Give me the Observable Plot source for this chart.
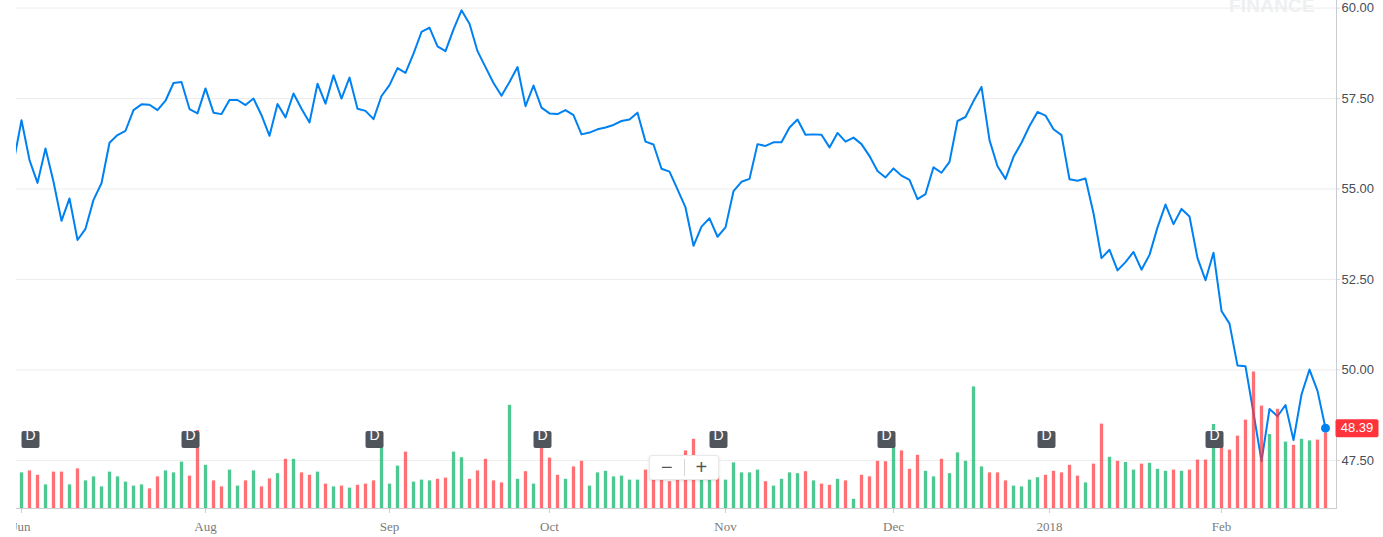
<!DOCTYPE html>
<html><head><meta charset="utf-8">
<script src="https://cdn.jsdelivr.net/npm/d3@7"></script>
<script src="https://cdn.jsdelivr.net/npm/@observablehq/plot@0.6"></script>
<style>
html,body{margin:0;padding:0;background:#fff;overflow:hidden}
#wrap{position:relative;width:1383px;height:537px;overflow:hidden}
#wrap svg{position:absolute;left:0;top:0}
#mark{position:absolute;left:1229px;top:-4px;font:bold 19px "Liberation Sans",Arial,sans-serif;line-height:19px;color:#eef0f2;letter-spacing:0.2px}
#zoomctl{position:absolute;left:649px;top:455px;width:68px;height:23px;background:#fff;border:1px solid #e8e8e8;border-radius:3px;box-shadow:0 1px 3px rgba(0,0,0,0.12);display:flex;align-items:center;font:20px "Liberation Sans",Arial,sans-serif;color:#555;z-index:5}
#zoomctl span{flex:1;text-align:center;line-height:23px}
#zoomctl .sep{flex:0 0 1px;height:17px;background:#d6d6d6}
#leftclip{position:absolute;left:0;top:0;width:16px;height:537px;background:#fff;z-index:6}
</style></head>
<body><div id="wrap"><div id="mark">FINANCE</div></div>
<script>
// Daily closes, first value is the trading day before the first visible bar
const closes = [55.73,
56.90,55.80,55.17,56.12,55.20,54.12,54.74,53.59,53.90,54.70,
55.16,56.28,56.49,56.61,57.18,57.34,57.33,57.18,57.44,57.93,
57.96,57.21,57.09,57.78,57.11,57.07,57.46,57.46,57.32,57.50,
57.04,56.47,57.35,56.98,57.64,57.22,56.84,57.91,57.36,58.14,
57.50,58.08,57.22,57.16,56.93,57.57,57.87,58.34,58.21,58.74,
59.34,59.46,58.94,58.81,59.41,59.94,59.57,58.81,58.37,57.93,
57.58,57.96,58.37,57.29,57.86,57.25,57.09,57.07,57.18,57.04,
56.51,56.56,56.65,56.70,56.77,56.88,56.92,57.11,56.31,56.23,
55.56,55.48,54.99,54.49,53.43,53.96,54.19,53.68,53.94,54.94,
55.20,55.28,56.24,56.19,56.29,56.29,56.70,56.92,56.50,56.51,
56.50,56.15,56.55,56.31,56.42,56.24,55.91,55.50,55.32,55.57,
55.37,55.25,54.72,54.86,55.60,55.45,55.75,56.88,56.99,57.43,
57.82,56.35,55.63,55.28,55.89,56.28,56.74,57.13,57.03,56.65,
56.49,55.27,55.23,55.29,54.33,53.09,53.32,52.75,52.98,53.26,
52.77,53.18,53.94,54.57,54.03,54.45,54.24,53.09,52.48,53.24,
51.63,51.28,50.12,50.10,48.81,47.48,48.92,48.72,49.03,48.06,
49.32,50.01,49.42,48.39];

// Daily volume (millions, estimated)
const volumes = [
8.9,9.4,8.3,5.9,9.1,9.1,5.9,9.9,6.9,7.9,
5.4,9.1,7.9,6.6,5.6,5.9,4.9,7.9,9.4,8.9,
11.6,8.1,19.5,10.8,6.9,5.4,9.6,5.6,6.9,9.4,
5.4,7.4,8.7,12.3,12.3,8.9,8.3,9.1,6.1,5.4,
5.6,5.1,5.8,6.1,6.9,16.1,6.1,10.6,14.1,6.6,
7.1,6.9,7.3,7.6,14.1,12.7,7.3,9.4,12.3,6.9,
6.4,25.8,7.3,9.2,6.1,16.5,12.6,8.3,7.3,10.4,
11.8,5.6,8.9,9.3,7.9,8.1,7.1,7.1,9.6,10.0,
9.5,6.7,10.0,14.4,17.3,8.8,8.3,8.0,7.1,11.4,
8.9,8.9,9.6,6.7,5.6,7.3,8.9,8.7,9.2,6.9,
6.1,5.8,7.3,6.9,2.3,8.3,7.9,11.8,11.7,16.3,
14.4,9.8,13.3,9.3,7.9,12.3,8.7,13.9,11.8,30.4,
10.4,8.9,8.9,6.9,5.6,5.4,7.1,7.7,8.3,9.3,
8.9,10.8,8.1,6.4,11.1,21.1,12.8,11.8,11.5,9.6,
11.1,11.3,9.8,9.3,9.6,9.3,9.6,12.1,12.1,21.0,
16.5,14.6,18.1,22.1,34.1,25.6,18.5,24.8,16.6,15.8,
17.3,16.9,17.1,18.9];

// G = up day, R = down day
const volumeDir = ("GRRGRRGRGG"+"GGGGGGRRGG"+"GRRGRRGGRG"+"RRGRGRRGRG"+"RGRRRGGGRG"+
  "GGRRGGRRRR"+"RGGRGRRRGR"+"RGGGGGGGRR"+"RRRRRGGRGG"+"GGGRGGGGRG"+
  "RRGRGRRRRG"+"RRRGGRGGGG"+"GRRRGGGGRR"+"RRRGRRGRGG"+"RGGGRGRRRG"+
  "RRRRRRGRGR"+"GGRR").split("");

const xTickPos = [0, 23, 46, 66, 88, 109, 128.5, 150];
const xTickLabels = ["Jun","Aug","Sep","Oct","Nov","Dec","2018","Feb"];
const yTicks = [47.5, 50, 52.5, 55, 57.5, 60];
const dividendIdx = [1, 21, 44, 65, 87, 108, 128, 149];

// ---- build
const W = 1383, H = 537, mL = 16, mR = 47, mB = 29;
const xDomain = [-0.625, 164.375];
const yPrice = {domain: [46.17, 60.21], axis: null};
const priceRows = closes.map((c, k) => ({i: k - 1, c}));
const volRows = volumes.map((v, i) => ({i, v, up: volumeDir[i] === "G"}));
const last = priceRows[priceRows.length - 1];
const lbl = new Map(xTickPos.map((p, k) => [p, xTickLabels[k]]));
const sans = "Liberation Sans, Arial, sans-serif";

function roundRect(w, h, r) {
  return {draw(ctx) {
    const x0 = -w / 2, y0 = -h / 2, x1 = w / 2, y1 = h / 2;
    ctx.moveTo(x0 + r, y0);
    ctx.arcTo(x1, y0, x1, y1, r);
    ctx.arcTo(x1, y1, x0, y1, r);
    ctx.arcTo(x0, y1, x0, y0, r);
    ctx.arcTo(x0, y0, x1, y0, r);
    ctx.closePath();
  }};
}

const common = {width: W, height: H, marginLeft: mL, marginRight: mR, marginTop: 0, marginBottom: mB,
  style: {background: "transparent", overflow: "visible"}};

const priceLayer = Plot.plot({...common,
  x: {domain: xDomain, axis: null},
  y: yPrice,
  marks: [
    Plot.gridY(yTicks, {stroke: "#ececec", strokeOpacity: 1}),
    Plot.line(priceRows, {x: "i", y: "c", stroke: "#0081f2", strokeWidth: 2, clip: true})
  ]
});

const volLayer = Plot.plot({...common,
  x: {domain: xDomain, axis: null},
  y: {domain: [0, 40], range: [H - mB, H - mB - 160], axis: null},
  marks: [
    Plot.ruleX(volRows, {filter: d => d.up, x: "i", y1: 0, y2: "v", stroke: "#00b061", strokeOpacity: 0.7, strokeWidth: 3.3}),
    Plot.ruleX(volRows, {filter: d => !d.up, x: "i", y1: 0, y2: "v", stroke: "#ff333a", strokeOpacity: 0.7, strokeWidth: 3.3}),
    Plot.ruleY([0], {stroke: "#c9ccd1"}),
    Plot.axisX({ticks: xTickPos, tickFormat: d => lbl.get(d), tickSize: 5, tickPadding: 8,
      stroke: "#c9ccd1", fill: "#7b7b7b", fontSize: 13, fontFamily: "Liberation Serif, Times New Roman, serif", label: null}),
    Plot.dot(dividendIdx, {x: d => d, frameAnchor: "bottom", dy: -69, dx: 1, symbol: roundRect(18, 17, 2), r: 9, fill: "#50555b", stroke: "none"}),
    Plot.text(dividendIdx, {x: d => d, frameAnchor: "bottom", dy: -69, dx: 1, text: () => "D", fill: "#ffffff", fontSize: 14, fontFamily: sans})
  ]
});

const topLayer = Plot.plot({...common,
  x: {domain: xDomain, axis: null},
  y: yPrice,
  marks: [
    Plot.frame({anchor: "right", stroke: "#c9ccd1"}),
    Plot.axisY(yTicks, {anchor: "right", tickFormat: d => d.toFixed(2), tickSize: 3, tickPadding: 2,
      stroke: "#d8d8d8", fill: "#464e56", fontSize: 13, fontFamily: sans, label: null}),
    Plot.dot([last], {x: "i", y: "c", r: 4.5, fill: "#0081f2", stroke: "none"}),
    Plot.dot([last], {x: "i", y: "c", dx: 31.5, symbol: roundRect(43, 18, 2), r: 10, fill: "#ff333a", stroke: "none"}),
    Plot.text([last], {x: "i", y: "c", dx: 31.5, text: d => d.c.toFixed(2), fill: "#ffffff", fontSize: 13, fontFamily: sans})
  ]
});

const wrap = document.getElementById("wrap");
wrap.appendChild(priceLayer);
wrap.appendChild(volLayer);
wrap.appendChild(topLayer);

const zc = document.createElement("div");
zc.id = "zoomctl";
zc.innerHTML = '<span>\u2212</span><div class="sep"></div><span>+</span>';
wrap.appendChild(zc);
const lc = document.createElement("div");
lc.id = "leftclip";
wrap.appendChild(lc);
</script></body></html>
